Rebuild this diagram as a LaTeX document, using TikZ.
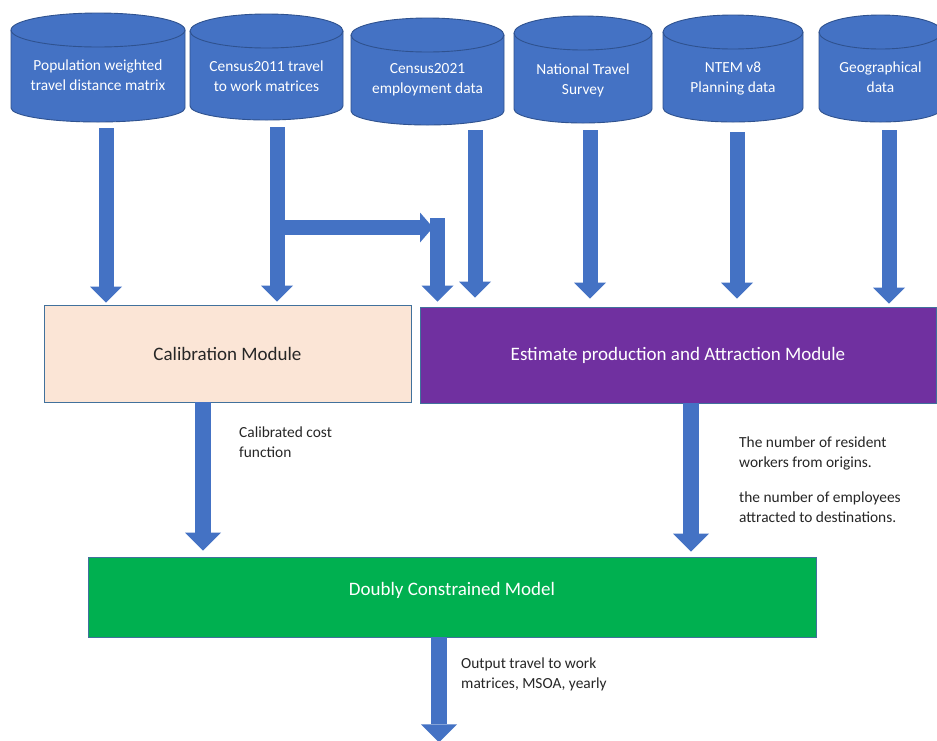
\documentclass[tikz,border=0pt]{standalone}
\usepackage{fontspec}
\setmainfont{Carlito}
\usetikzlibrary{arrows.meta,calc}
\definecolor{cylblue}{HTML}{4472C4}
\definecolor{cyledge}{HTML}{2F528F}
\definecolor{arrblue}{HTML}{4472C4}
\definecolor{peach}{HTML}{FBE5D6}
\definecolor{modpurple}{HTML}{7030A0}
\definecolor{modgreen}{HTML}{00B050}
\definecolor{boxedge}{HTML}{41719C}
\definecolor{darktext}{HTML}{262626}
\tikzset{
  cylbody/.style={fill=cylblue, draw=cyledge, line width=0.9pt},
  cylcap/.style={draw=cyledge, line width=0.9pt},
  cyltext/.style={text=white, align=center, inner sep=0pt, font=\fontsize{15.4}{20}\selectfont},
  modbox/.style={draw=boxedge, line width=0.8pt, inner sep=0pt, font=\fontsize{19}{23}\selectfont},
  lbl/.style={text=darktext, align=left, anchor=west, inner sep=0pt, font=\fontsize{15.4}{20.5}\selectfont},
  toparrow/.style={draw=arrblue, line width=15pt, -{Triangle[width=32pt,length=16pt,line width=0pt]}},
  sidearrow/.style={draw=arrblue, line width=15pt, -{Triangle[width=30pt,length=13pt,line width=0pt]}},
  lowarrow/.style={draw=arrblue, line width=16pt, -{Triangle[width=36pt,length=18pt,line width=0pt]}}
}
\newcommand\dbcyl[7]{%
  \pgfmathsetmacro\cylcx{(#2+#3)/2}%
  \pgfmathsetmacro\cylrx{(#3-#2)/2}%
  \pgfmathsetmacro\cylya{#4+17}%
  \pgfmathsetmacro\cylyb{#5-14}%
  \pgfmathsetmacro\cylcy{(#4+#5)/2}%
  \pgfmathsetmacro\cylw{#3-#2}%
  \pgfmathsetmacro\cylh{#5-#4}%
  \filldraw[cylbody] (#2,\cylya) -- (#2,\cylyb)
    arc[start angle=180,end angle=360,x radius=\cylrx pt,y radius=14pt]
    -- (#3,\cylya)
    arc[start angle=0,end angle=180,x radius=\cylrx pt,y radius=17pt] -- cycle;
  \draw[cylcap] (#2,\cylya) arc[start angle=180,end angle=360,x radius=\cylrx pt,y radius=17pt];
  \node[inner sep=0pt,outer sep=0pt,minimum width=\cylw pt,minimum height=\cylh pt] (#1) at (\cylcx,\cylcy) {};
  \node[cyltext] (#1t) at (\cylcx,#6) {#7};
}
\begin{document}
\begin{tikzpicture}[x=1pt,y=-1pt]
\clip (0,0) rectangle (937,740);
\fill[white] (0,0) rectangle (937,740);

% data sources
\dbcyl{c1}{11}{185}{13}{122}{75}{Population weighted\\travel distance matrix}
\dbcyl{c2}{190}{343}{14}{120}{76}{Census2011 travel\\to work matrices}
\dbcyl{c3}{351}{504}{18}{125}{80}{Census2021\\employment data}
\dbcyl{c4}{514}{652}{16}{123}{80}{National Travel\\Survey}
\dbcyl{c5}{663}{803}{15}{122}{79}{NTEM v8\\Planning data}
\dbcyl{c6}{819}{942}{15}{122}{77}{Geographical\\data}

% modules
\node[modbox, fill=peach, text=darktext, minimum width=367pt, minimum height=97pt] (calib) at (227.5,353.5) {Calibration Module};
\node[modbox, fill=modpurple, text=white, minimum width=516pt, minimum height=96pt] (est) at (678,355) {Estimate production and Attraction Module};
\node[modbox, fill=modgreen, minimum width=728pt, minimum height=80pt] (dcm) at (452,597) {};
\node[text=white, inner sep=0pt, font=\fontsize{19}{23}\selectfont] (dcmt) at (452,590) {Doubly Constrained Model};

% arrow anchors
\coordinate (a1s) at ($(c1.south)+(8,6)$);
\coordinate (a2s) at ($(c2.south)+(10.5,7)$);
\coordinate (a3s) at ($(c3.south)+(47.5,5)$);
\coordinate (a4s) at ($(c4.south)+(7,7)$);
\coordinate (a5s) at ($(c5.south)+(4,10)$);
\coordinate (a6s) at ($(c6.south)+(8.5,8)$);
\path (a2s) ++(0,100.5) coordinate (split);
\coordinate (hend) at (433,227.5);
\coordinate (drop) at (437.5,218);

% input arrows
\draw[toparrow, shorten >=2pt] (a1s) -- (a1s |- calib.north);
\draw[toparrow, shorten >=3pt] (a2s) -- (a2s |- calib.north);
\draw[sidearrow] (split) -- (hend);
\draw[toparrow, shorten >=5pt] (drop) -- (drop |- est.north);
\draw[toparrow, shorten >=9pt] (a3s) -- (a3s |- est.north);
\draw[toparrow, shorten >=8pt] (a4s) -- (a4s |- est.north);
\draw[toparrow, shorten >=8pt] (a5s) -- (a5s |- est.north);
\draw[toparrow, shorten >=3pt] (a6s) -- (a6s |- est.north);

% lower arrows
\coordinate (b1) at ($(calib.south)+(-24.5,0)$);
\coordinate (b2) at ($(est.south)+(13,0)$);
\coordinate (b3) at ($(dcm.south)+(-13,0)$);
\coordinate (outend) at ($(dcm.south)+(-13,105)$);
\draw[lowarrow, shorten >=6pt] (b1) -- (b1 |- dcm.north);
\draw[lowarrow, shorten >=5pt] (b2) -- (b2 |- dcm.north);
\draw[lowarrow] (b3) -- (outend);

% labels
\node[lbl] (l1) at (239,442) {Calibrated cost\\function};
\node[lbl] (l2) at (739,479.5) {The number of resident\\workers from origins.\\[14pt]the number of employees\\attracted to destinations.};
\node[lbl] (l3) at (461,674.5) {Output travel to work\\matrices, MSOA, yearly};
\end{tikzpicture}
\end{document}
